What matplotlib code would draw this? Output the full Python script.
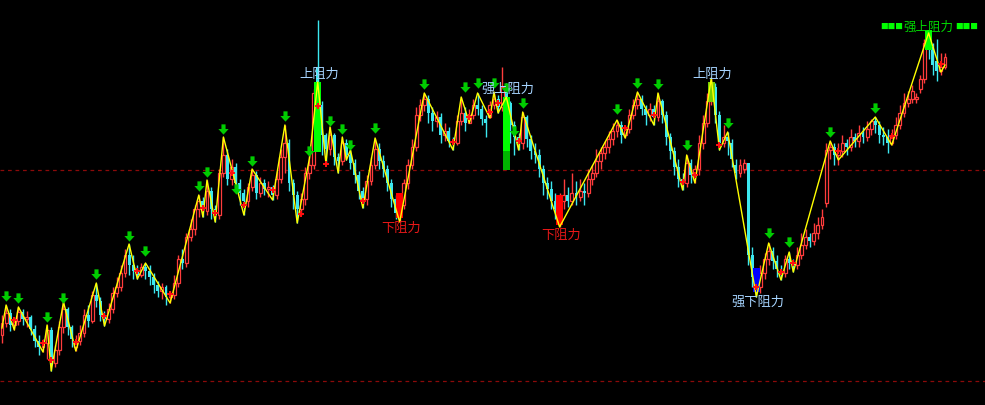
import numpy as np
import matplotlib.pyplot as plt
from matplotlib.path import Path

plt.rcParams['font.family'] = ['Noto Sans CJK SC', 'DejaVu Sans']

# candle data (price units)
opens = [70, 82, 92, 80, 84, 93, 86, 88, 76, 64,
         58, 62, 75, 42, 55, 78, 96, 78, 58, 64,
         72, 90, 84, 110, 104, 90, 86, 96, 112, 118,
         132, 150, 140, 134, 130, 138, 134, 128, 120, 114,
         118, 108, 110, 122, 146, 142, 168, 176, 196, 204,
         194, 214, 196, 190, 232, 250, 226, 238, 222, 212,
         204, 218, 230, 212, 222, 216, 218, 210, 226, 248,
         262, 222, 210, 196, 206, 232, 240, 338, 300, 270,
         256, 270, 248, 244, 262, 250, 242, 230, 214, 206,
         224, 240, 256, 244, 236, 222, 206, 192, 200, 222,
         240, 258, 290, 300, 306, 292, 284, 288, 270, 274,
         264, 262, 284, 292, 282, 290, 300, 296, 286, 288,
         300, 306, 298, 318, 302, 280, 268, 262, 288, 266,
         254, 250, 236, 222, 216, 204, 186, 204, 210, 204,
         212, 208, 214, 212, 226, 232, 244, 252, 258, 266,
         274, 280, 270, 276, 290, 300, 306, 296, 290, 296,
         288, 304, 290, 268, 254, 238, 226, 222, 242, 230,
         236, 262, 282, 304, 318, 290, 262, 268, 262, 240,
         232, 236, 242, 150, 128, 118, 132, 146, 154, 144,
         136, 132, 146, 142, 140, 150, 160, 168, 164, 172,
         180, 202, 255, 258, 250, 254, 262, 258, 268, 264,
         272, 268, 276, 284, 280, 270, 268, 262, 270, 280,
         292, 302, 306, 306, 316, 326, 362, 358, 344, 334,
         338]
closes = [82, 92, 80, 84, 93, 86, 88, 76, 64, 58,
          62, 75, 42, 55, 78, 96, 78, 66, 64, 72,
          90, 84, 110, 104, 90, 86, 96, 112, 118, 132,
          150, 140, 134, 130, 138, 134, 128, 120, 114, 118,
          108, 110, 122, 146, 142, 168, 176, 196, 204, 194,
          214, 196, 190, 232, 250, 226, 238, 222, 212, 204,
          218, 230, 212, 222, 216, 218, 210, 226, 248, 262,
          222, 210, 196, 206, 232, 240, 312, 323, 270, 256,
          270, 248, 244, 262, 250, 242, 230, 214, 206, 224,
          240, 256, 244, 236, 222, 206, 192, 200, 222, 240,
          258, 290, 300, 306, 292, 284, 288, 270, 274, 264,
          262, 284, 292, 282, 290, 300, 296, 286, 282, 300,
          306, 298, 318, 302, 280, 268, 262, 288, 266, 254,
          250, 236, 222, 216, 204, 196, 204, 210, 204, 212,
          208, 214, 212, 226, 232, 244, 252, 258, 266, 274,
          280, 270, 276, 290, 300, 306, 296, 290, 296, 288,
          304, 290, 268, 254, 238, 226, 222, 242, 230, 236,
          262, 282, 304, 318, 290, 262, 268, 264, 246, 232,
          240, 242, 150, 128, 118, 132, 146, 154, 144, 136,
          132, 146, 142, 140, 150, 160, 168, 164, 172, 180,
          188, 255, 258, 250, 254, 262, 258, 268, 264, 272,
          268, 276, 284, 280, 270, 268, 262, 270, 280, 292,
          302, 306, 314, 308, 326, 362, 358, 340, 334, 338,
          348]
highs = [90, 100, 96, 88, 98, 96, 94, 90, 80, 70,
         66, 80, 78, 60, 84, 103, 98, 80, 70, 80,
         96, 100, 114, 122, 108, 94, 102, 118, 128, 140,
         156, 161, 150, 140, 142, 142, 140, 132, 124, 122,
         120, 114, 130, 150, 156, 172, 186, 200, 210, 208,
         225, 218, 200, 236, 268, 256, 246, 242, 226, 216,
         222, 236, 234, 228, 226, 224, 220, 234, 256, 280,
         266, 226, 214, 212, 238, 250, 316, 385, 304, 272,
         278, 272, 252, 268, 266, 255, 246, 234, 218, 230,
         248, 267, 262, 250, 240, 226, 210, 206, 226, 246,
         266, 298, 306, 312, 310, 298, 294, 292, 282, 278,
         268, 290, 308, 298, 296, 306, 312, 300, 290, 304,
         313, 310, 338, 322, 304, 284, 272, 293, 290, 270,
         262, 256, 240, 228, 224, 212, 212, 226, 218, 232,
         224, 226, 222, 236, 240, 256, 258, 264, 274, 282,
         285, 284, 280, 296, 306, 313, 310, 300, 302, 300,
         312, 306, 294, 272, 258, 246, 232, 250, 246, 240,
         270, 290, 312, 327, 322, 294, 280, 273, 266, 246,
         246, 246, 242, 158, 135, 140, 152, 162, 158, 150,
         140, 150, 153, 146, 158, 172, 176, 172, 182, 188,
         196, 262, 264, 262, 262, 270, 266, 276, 272, 280,
         278, 284, 286, 288, 284, 278, 276, 276, 288, 300,
         312, 314, 320, 312, 330, 366, 372, 362, 366, 352,
         352]
lows = [62, 78, 74, 75, 80, 80, 78, 70, 58, 50,
        53, 46, 34, 38, 50, 72, 70, 58, 54, 60,
        68, 78, 82, 98, 84, 79, 82, 92, 108, 114,
        128, 130, 126, 126, 128, 126, 120, 112, 108, 106,
        100, 102, 106, 118, 136, 138, 164, 170, 188, 188,
        190, 186, 183, 186, 228, 220, 220, 214, 200, 190,
        198, 214, 206, 208, 210, 208, 205, 206, 222, 232,
        214, 196, 182, 190, 200, 226, 236, 318, 250, 242,
        250, 240, 232, 240, 245, 236, 222, 206, 197, 200,
        220, 236, 236, 228, 214, 198, 186, 183, 196, 216,
        236, 254, 284, 294, 282, 274, 278, 262, 264, 258,
        255, 260, 280, 274, 282, 286, 290, 280, 268, 287,
        296, 292, 294, 296, 262, 250, 255, 256, 258, 246,
        242, 228, 210, 206, 196, 186, 178, 196, 198, 200,
        200, 204, 200, 208, 220, 228, 236, 246, 252, 260,
        268, 262, 267, 272, 286, 296, 290, 280, 284, 280,
        284, 282, 260, 246, 230, 218, 215, 218, 222, 222,
        230, 256, 278, 300, 282, 255, 258, 250, 238, 226,
        228, 232, 140, 118, 108, 112, 126, 140, 136, 128,
        125, 128, 136, 133, 136, 146, 156, 158, 160, 166,
        176, 198, 246, 240, 240, 248, 250, 254, 258, 258,
        262, 264, 270, 272, 262, 260, 252, 260, 266, 276,
        288, 298, 302, 302, 312, 322, 346, 330, 324, 330,
        336]

# zigzag turning points (candle index, price)
zz_idx = [0, 1, 3, 4, 10, 11, 12, 15, 18, 23, 25, 31, 33, 35, 41, 48, 49, 50,
          52, 54, 59, 61, 66, 69, 72, 75, 77, 79, 80, 82, 83, 84, 85, 88, 91,
          97, 103, 110, 112, 114, 116, 119, 120, 121, 123, 126, 127, 136, 150,
          152, 155, 159, 160, 166, 167, 169, 173, 175, 177, 184, 187, 190, 192,
          193, 202, 204, 213, 217, 226, 229, 230]
zz_val = [77, 100, 75, 98, 53, 80, 34, 103, 54, 122, 79, 161, 126, 142, 102,
          210, 188, 225, 183, 268, 190, 236, 205, 280, 182, 247, 323, 242, 278,
          232, 268, 245, 255, 197, 267, 183, 312, 255, 308, 282, 312, 287, 313,
          292, 308, 255, 293, 178, 285, 267, 313, 280, 312, 215, 250, 222, 327,
          255, 273, 108, 162, 125, 153, 133, 264, 245, 288, 260, 372, 333, 340]

# green arrows over highs
arrow_idx = [1, 4, 11, 15, 23, 31, 35, 48, 50, 54, 57, 61, 69, 75, 80, 83, 85,
             91, 103, 113, 116, 120, 123, 125, 127, 150, 155, 160, 167, 177,
             187, 192, 202, 213]
arrow_val = [109, 107, 88, 107, 131, 169, 154, 219, 233, 276, 216, 244, 289,
             254, 284, 276, 260, 277, 321, 318, 322, 322, 317, 274, 302, 296,
             322, 321, 260, 282, 172, 163, 273, 297]

# red marks at lows
dot_idx = [3, 10, 12, 18, 25, 33, 41, 49, 52, 56, 59, 66, 73, 77, 79, 88, 110,
           114, 119, 121, 126, 152, 159, 166, 169, 175, 184, 190, 193, 204,
           217, 229]
dot_val = [85, 62, 45, 63, 89, 134, 111, 197, 192, 232, 200, 215, 191, 299,
           241, 204, 263, 288, 293, 302, 264, 277, 290, 223, 230, 260, 118, 133,
           142, 254, 269, 341]

# signal bars
sig_idx = [77, 123, 123, 173, 184, 97, 136, 226]
sig_low = [253, 254, 235, 303, 113, 187, 180, 355]
sig_high = [323, 308, 254, 323, 137, 212, 210, 375]
sig_color = ['#00ff00', '#00ff00', '#00b400', '#77cc00', '#0000ff', '#ff0000',
             '#ff0000', '#00ff00']

lab_sig = [0, 1, 3, 4, 5, 6, 7]
lab_text = ['上阻力', '强上阻力', '上阻力', '强下阻力', '下阻力', '下阻力', '强上阻力']

levels = [235, 24]

o = np.array(opens, float)
c = np.array(closes, float)
h = np.array(highs, float)
l = np.array(lows, float)
idx = np.arange(len(o))
up = c >= o
dn = ~up

red = '#ff3c3c'
cyan = '#3ce8f0'

fig = plt.figure(figsize=(9.85, 4.05), dpi=100, facecolor='black')
ax = fig.add_axes([0, 0, 1, 1])
ax.set_facecolor('black')

for lv in levels:
    ax.axhline(lv, color='#8b0a0a', lw=0.9, ls=(0, (3, 3)), zorder=1)

ax.vlines(idx[up], l[up], h[up], colors=red, lw=1.0, zorder=2)
ax.vlines(idx[dn], l[dn], h[dn], colors=cyan, lw=1.0, zorder=2)
ax.bar(idx[up], np.maximum(c[up] - o[up], 0.6), bottom=o[up], width=0.72,
       facecolor='black', edgecolor=red, lw=0.9, zorder=3)
ax.bar(idx[dn], np.maximum(o[dn] - c[dn], 0.6), bottom=c[dn], width=0.72,
       color=cyan, lw=0, zorder=3)

sl = np.array(sig_low, float)
sh = np.array(sig_high, float)
ax.bar(sig_idx, sh - sl, bottom=sl, width=1.7, color=sig_color, lw=0, zorder=4)

ax.plot(zz_idx, zz_val, color='#ffff00', lw=1.0, zorder=5)

arrow = Path([(-0.2, 0.5), (0.2, 0.5), (0.2, 0.05), (0.5, 0.05), (0, -0.5),
              (-0.5, 0.05), (-0.2, 0.05), (-0.2, 0.5)], closed=True)
ax.scatter(arrow_idx, arrow_val, marker=arrow, s=55, color='#00cc00',
           linewidths=0, zorder=6)
ax.scatter(dot_idx, dot_val, marker='P', s=22, color='#ff1010',
           linewidths=0, zorder=6)

for n, (k, txt) in enumerate(zip(lab_sig, lab_text)):
    x = sig_idx[k]
    if n == len(lab_text) - 1:
        # top-right strong signal: text flanked by green squares
        ax.annotate(txt, (x, sig_high[k]), xytext=(0, 2), textcoords='offset points',
                    ha='center', va='center', color='#00d800', fontsize=9, zorder=7)
        ax.annotate('■■■', (x, sig_high[k]), xytext=(-18, 2), textcoords='offset points',
                    ha='right', va='center', color='#00ff00', fontsize=5.5, zorder=7)
        ax.annotate('■■■', (x, sig_high[k]), xytext=(19, 2), textcoords='offset points',
                    ha='left', va='center', color='#00ff00', fontsize=5.5, zorder=7)
    elif '下' in txt:
        col = '#e81818' if txt == '下阻力' else '#a6d4ff'
        ax.annotate(txt, (x, sig_low[k]), xytext=(1, -3), textcoords='offset points',
                    ha='center', va='top', color=col, fontsize=9.5, zorder=7)
    else:
        ax.annotate(txt, (x, sig_high[k]), xytext=(1, 1), textcoords='offset points',
                    ha='center', va='bottom', color='#a6d4ff', fontsize=9.5, zorder=7)

ax.set_xlim(-0.488, 239.76)
ax.set_ylim(0, 405)
ax.set_xticks([])
ax.set_yticks([])
for s in ax.spines.values():
    s.set_visible(False)

plt.savefig('out.png', dpi=100, facecolor='black')
